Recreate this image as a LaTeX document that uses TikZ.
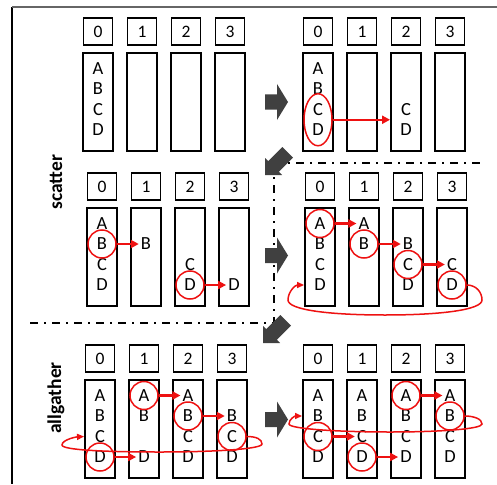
\documentclass[tikz,border=0pt]{standalone}
\usepackage{fontspec}
\setmainfont{Carlito}
\usetikzlibrary{arrows.meta,shapes.geometric,calc}
\definecolor{darkarr}{HTML}{404040}
\definecolor{myred}{HTML}{EE1111}
\tikzset{
 ibox/.style={draw, line width=1.5pt, minimum width=29pt, minimum height=27pt, inner sep=0pt, font=\fontsize{17.5}{17.5}\selectfont},
 colbox/.style={draw, line width=1.9pt, minimum width=30pt, minimum height=98pt, inner sep=0pt},
 lt/.style={inner sep=0pt, font=\fontsize{18.5}{18.5}\selectfont},
 rc/.style={circle, draw=myred, line width=1.5pt, minimum size=28pt, inner sep=0pt},
 rell/.style={ellipse, draw=myred, line width=1.5pt, minimum width=28pt, minimum height=52pt, inner sep=0pt},
 rarr/.style={draw=myred, line width=2.4pt, shorten >=2pt, -{Triangle[length=8pt,width=8pt]}},
 rloop/.style={draw=myred, line width=1.5pt, -{Triangle[length=7pt,width=6pt]}},
 dd/.style={line width=2.5pt, dash pattern=on 8pt off 6pt on 2pt off 6pt},
 lbl/.style={font=\fontsize{19.5}{19.5}\selectfont\bfseries, inner sep=0pt},
 blk/.style={fill=darkarr},
}
\newcommand\setpanel[3]{\def\curp{#1}\def\pX{#2}\def\pY{#3}}
\newcommand\mkpanel{\foreach \i in {0,...,3}{%
  \node[ibox] (\curp i\i) at ({\pX+44*\i+15},{\pY+13.5}) {\i};
  \node[colbox] (\curp c\i) at ({\pX+44*\i+15},{\pY+84}) {};}}
\newcommand\lt[3]{\node[lt] (\curp#1#3) at ({\pX+44*#1+15},{\pY+50.5+20.5*#2}) {#3};}
\begin{document}
\begin{tikzpicture}[x=1pt,y=-1pt]
\fill[white] (0,0) rectangle (497,484);
\useasboundingbox (0,0) rectangle (497,484);
% frame
\draw[black, line width=1.3pt] (12,7) -- (12,484);
\draw[black!60, line width=1.3pt] (12,7) -- (497,7);
% labels
\node[lbl, rotate=90] (lscatter) at (56,182) {scatter};
\node[lbl, rotate=90] (lallgather) at (56,398) {allgather};
% dash-dot separators
\draw[dd] (274,163) -- (481,163);
\draw[dd] (274,163) -- (274,323);
\draw[dd] (30,323) -- (274,323);
% block arrows
\foreach \c in {102,255.5,419.5}{
  \fill[blk, shift={(265,\c)}] (0,-7.5) -- (12,-7.5) -- (12,-18) -- (23,0) -- (12,18) -- (12,7.5) -- (0,7.5) -- cycle;}
\foreach \tx/\ty in {265/175,263/343}{
  \fill[blk, shift={(\tx,\ty)}] (0,0) -- (17,0) -- (13.8,-3.2) -- (28,-17.4) -- (17.4,-28) -- (3.2,-13.8) -- (0,-17) -- cycle;}
% panel a
\setpanel{a}{83}{18}\mkpanel
\foreach \r/\L in {0/A,1/B,2/C,3/D}{\lt{0}{\r}{\L}}
% panel b
\setpanel{b}{303}{18}\mkpanel
\foreach \r/\L in {0/A,1/B,2/C,3/D}{\lt{0}{\r}{\L}}
\lt{2}{2}{C}\lt{2}{3}{D}
\node[rell] (bE) at ($(b0C)!0.5!(b0D)$) {};
\draw[rarr, shorten >=0pt] (bE.east) -- (bE.east -| bc2.west);
% panel c
\setpanel{c}{87}{173}\mkpanel
\foreach \r/\L in {0/A,1/B,2/C,3/D}{\lt{0}{\r}{\L}}
\lt{1}{1}{B}\lt{2}{2}{C}\lt{2}{3}{D}\lt{3}{3}{D}
\node[rc] (cB) at (c0B) {};
\node[rc] (cD) at (c2D) {};
\draw[rarr] (cB.east) -- (c1B.west);
\draw[rarr] (cD.east) -- (c3D.west);
% panel d
\setpanel{d}{305}{173}\mkpanel
\foreach \r/\L in {0/A,1/B,2/C,3/D}{\lt{0}{\r}{\L}}
\lt{1}{0}{A}\lt{1}{1}{B}\lt{2}{1}{B}\lt{2}{2}{C}\lt{2}{3}{D}\lt{3}{2}{C}\lt{3}{3}{D}
\node[rc] (dA) at (d0A) {};
\node[rc] (dB) at (d1B) {};
\node[rc] (dC) at (d2C) {};
\node[rc] (dD) at (d3D) {};
\draw[rarr] (dA.east) -- (d1A.west);
\draw[rarr] (dB.east) -- (d2B.west);
\draw[rarr] (dC.east) -- (d3C.west);
\draw[rloop] (dD.east) .. controls (476,285) and (482,292) .. (482,300)
  .. controls (482,310) and (440,315) .. (385,315)
  .. controls (330,315) and (288,310) .. (288,300)
  .. controls (288,292) and (295,285) .. (dc0.west |- d0D);
% panel e
\setpanel{e}{85}{345}\mkpanel
\foreach \r/\L in {0/A,1/B,2/C,3/D}{\lt{0}{\r}{\L}\lt{2}{\r}{\L}}
\lt{1}{0}{A}\lt{1}{1}{B}\lt{1}{3}{D}\lt{3}{1}{B}\lt{3}{2}{C}\lt{3}{3}{D}
\node[rc] (eA) at (e1A) {};
\node[rc] (eB) at (e2B) {};
\node[rc] (eC) at (e3C) {};
\node[rc] (eD) at (e0D) {};
\draw[rarr] (eA.east) -- (e2A.west);
\draw[rarr] (eB.east) -- (e3B.west);
\draw[rarr] (eD.east) -- (e1D.west);
\draw[rloop] (eC.east) .. controls (256,436.5) and (262,439) .. (262,444)
  .. controls (262,449) and (215,452) .. (160,452)
  .. controls (105,452) and (62,450) .. (62,445)
  .. controls (62,440) and (75,437) .. (ec0.west |- e0C);
% panel f
\setpanel{f}{303}{345}\mkpanel
\foreach \r/\L in {0/A,1/B,2/C,3/D}{\lt{0}{\r}{\L}\lt{1}{\r}{\L}\lt{2}{\r}{\L}\lt{3}{\r}{\L}}
\node[rc] (fA) at (f2A) {};
\node[rc] (fB) at (f3B) {};
\node[rc] (fC) at (f0C) {};
\node[rc] (fD) at (f1D) {};
\draw[rarr] (fA.east) -- (f3A.west);
\draw[rarr] (fC.east) -- (f1C.west);
\draw[rarr] (fD.east) -- (f2D.west);
\draw[rloop] (fB.east) .. controls (474,416) and (482,419) .. (482,424)
  .. controls (482,429) and (440,432) .. (390,432)
  .. controls (340,432) and (289,429) .. (289,424)
  .. controls (289,419) and (295,416) .. (fc0.west |- f0B);
\end{tikzpicture}
\end{document}
